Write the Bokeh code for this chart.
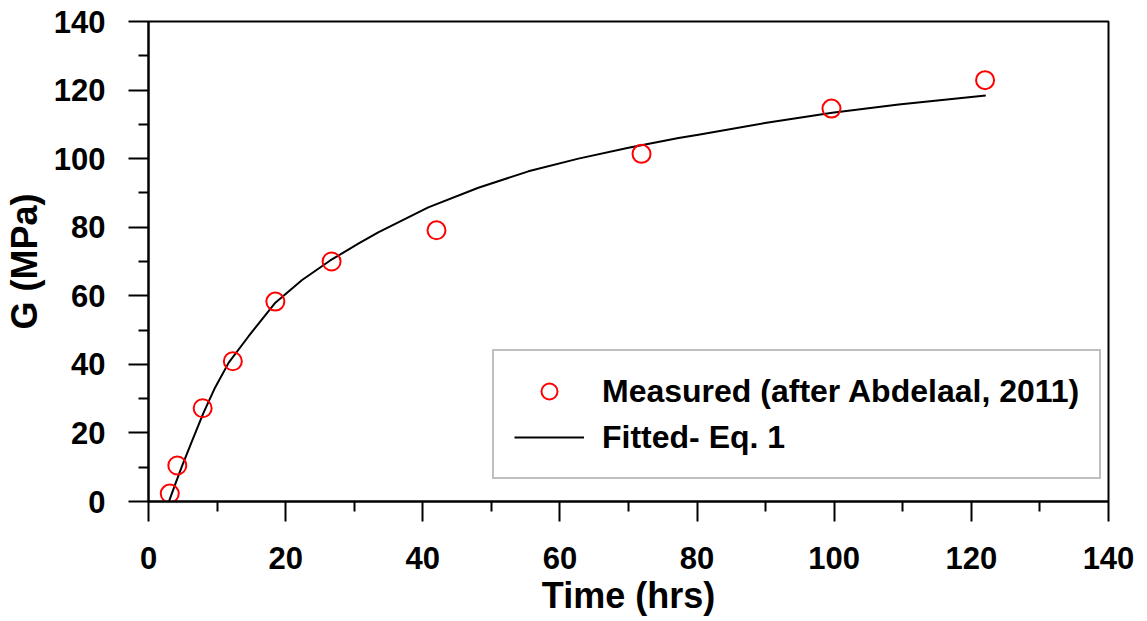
from bokeh.plotting import figure
from bokeh.models import Legend, LegendItem, FixedTicker, Range1d
from bokeh.embed import file_html
from bokeh.resources import INLINE

# Measured data (after Abdelaal, 2011)
meas_t = [3.1, 4.2, 7.9, 12.3, 18.5, 26.7, 42.0, 71.9, 99.6, 122.0]
meas_g = [2.3, 10.5, 27.2, 40.9, 58.3, 70.0, 79.1, 101.4, 114.6, 122.9]

# Fitted curve (Eq. 1)
fit_t = [3.0, 4.0, 4.9, 6.3, 8.0, 9.7, 11.7, 14.6, 18.5, 22.4, 26.5, 30.6, 33.5, 40.8,
         48.1, 55.4, 62.7, 70.0, 77.3, 80.2, 89.9, 99.7, 109.4, 122.1]
fit_g = [0.1, 5.6, 10.4, 17.4, 25.8, 33.2, 40.5, 48.2, 58.0, 64.6, 70.3, 75.2, 78.5, 85.8,
         91.5, 96.3, 100.0, 103.2, 106.0, 107.0, 110.4, 113.4, 115.8, 118.4]

x_ticks = [0, 20, 40, 60, 80, 100, 120, 140]
y_ticks = [0, 20, 40, 60, 80, 100, 120, 140]

FONT = "Liberation Sans"

p = figure(frame_width=960, frame_height=480, output_backend="svg", toolbar_location=None,
           x_range=Range1d(0, 140), y_range=Range1d(0, 140),
           min_border_left=147, min_border_top=21, min_border_right=29, min_border_bottom=100)

p.background_fill_color = "white"
p.border_fill_color = "white"
p.outline_line_color = "black"
p.outline_line_width = 2
p.xgrid.visible = False
p.ygrid.visible = False

fit = p.line(fit_t, fit_g, line_color="black", line_width=2, line_join="round")
meas = p.scatter(meas_t, meas_g, marker="circle", size=18, fill_color=None,
                 line_color="red", line_width=2)

for ax, ticks in ((p.xaxis[0], x_ticks), (p.yaxis[0], y_ticks)):
    ax.ticker = FixedTicker(ticks=ticks, minor_ticks=[t + 10 for t in ticks[:-1]])
    ax.axis_line_color = "black"
    ax.axis_line_width = 2
    ax.major_tick_line_width = 2
    ax.minor_tick_line_width = 2
    ax.major_tick_in = 0
    ax.major_tick_out = 20
    ax.minor_tick_in = 0
    ax.minor_tick_out = 10
    ax.major_label_text_font = FONT
    ax.major_label_text_font_style = "bold"
    ax.major_label_text_font_size = "31px"
    ax.major_label_text_color = "black"
    ax.axis_label_text_font = FONT
    ax.axis_label_text_font_style = "bold"
    ax.axis_label_text_font_size = "36px"
    ax.axis_label_text_color = "black"

p.xaxis.axis_label = "Time (hrs)"
p.yaxis.axis_label = "G (MPa)"
p.xaxis.major_label_standoff = 25
p.xaxis.axis_label_standoff = 3
p.yaxis.major_label_standoff = 23
p.yaxis.axis_label_standoff = 6

legend = Legend(items=[LegendItem(label="Measured (after Abdelaal, 2011)", renderers=[meas]),
                       LegendItem(label="Fitted- Eq. 1", renderers=[fit])],
                location=(344, 22))
legend.label_text_font = FONT
legend.label_text_font_style = "bold"
legend.label_text_font_size = "32px"
legend.label_text_color = "black"
legend.glyph_width = 70
legend.glyph_height = 40
legend.label_height = 40
legend.label_standoff = 18
legend.spacing = 6
legend.padding = 20
legend.margin = 0
legend.border_line_color = "#808080"
legend.border_line_width = 2
legend.background_fill_color = "white"
legend.background_fill_alpha = 1
p.add_layout(legend, "center")

open("out.html", "w").write(file_html(p, INLINE))
